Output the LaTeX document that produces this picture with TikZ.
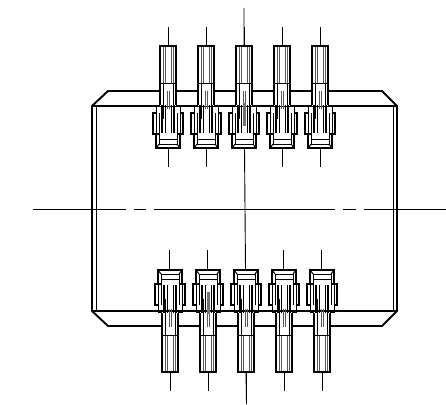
\documentclass[tikz,border=0pt]{standalone}
\tikzset{
  heavy/.style={line width=1.9pt,black,line join=miter},
  fine/.style={line width=1pt,black},
  axisline/.style={line width=0.9pt,black},
  hatch/.style={line width=0.8pt,black!65},
  pin/.pic={
    % tube and collar, masking the body lines
    \fill[white] (-8,-163) rectangle (8,-103);
    \draw[hatch] (-5,-163) -- (-5,-126) (-3,-163) -- (-3,-126) (3,-163) -- (3,-126) (5,-163) -- (5,-126);
    \draw[fine] (-5,-126) -- (-5,-90) (5,-126) -- (5,-90);
    \draw[hatch] (-1,-118) -- (-1,-100) (1,-118) -- (1,-100);
    % dark sleeve
    \draw[heavy] (-6,-104) -- (-6,-76) (6,-104) -- (6,-76);
    \draw[fine] (-3,-104) -- (-3,-76) (3,-104) -- (3,-76);
    % tube outline
    \draw[heavy] (-8,-104) -- (-8,-163) -- (8,-163) -- (8,-104);
    \draw[fine] (-8,-126) -- (8,-126);
    % shoulders and side blocks
    \draw[fine] (-8,-103) -- (-12,-103) -- (-12,-96) (8,-103) -- (12,-103) -- (12,-96);
    \draw[heavy] (-12,-96) -- (-15,-96) -- (-15,-75) -- (-9,-75) (12,-96) -- (15,-96) -- (15,-75) -- (9,-75);
    \draw[fine] (-12,-96) -- (-12,-75) (-9,-96) -- (-9,-75) (12,-96) -- (12,-75) (9,-96) -- (9,-75);
    % cup
    \draw[heavy] (-12,-75) -- (-12,-61) -- (12,-61) -- (12,-75);
    \draw[fine] (-9,-75) -- (-9,-65) -- (9,-65) -- (9,-75);
    \draw[fine] (-9,-70) -- (9,-70);
    \draw[fine] (-9,-65) -- (-12,-61) (9,-65) -- (12,-61);
  }
}
\begin{document}
\begin{tikzpicture}[x=1pt,y=-1pt]
\useasboundingbox (0,0) rectangle (446,404);
% body
\draw[heavy] (92,311) -- (92,106) -- (108,91) -- (382,91) -- (397,106) -- (397,311) -- (382,326) -- (108,326) -- cycle;
\draw[heavy] (92,106) -- (397,106) (92,311) -- (397,311);
\draw[fine] (96,106) -- (96,311) (393,106) -- (393,311);
% axes
\draw[axisline] (33,209) -- (126,209) (134,209) -- (146,209) (154,209) -- (335,209) (343,209) -- (356,209) (364,209) -- (446,209);
% pins
\foreach \c in {168,206,244,282,320}{
  \pic at (\c,209) {pin};
  \draw[axisline] (\c,27) -- (\c,46) (\c+0.5,148) -- (\c+0.5,167);
}
\foreach \c in {170,208,246,284,322}{
  \pic[yscale=-1] at (\c,209) {pin};
  \draw[axisline] (\c-1,250) -- (\c-1,269) (\c,372) -- (\c,391);
}
\fill[black!55] (242.5,103) rectangle (245.5,126);
\fill[black!55] (206.5,292) rectangle (209.5,314);
\draw[axisline] (244,8) -- (244,46) (244.5,148) -- (245.5,269) (246,372) -- (246.5,404);
\end{tikzpicture}
\end{document}
